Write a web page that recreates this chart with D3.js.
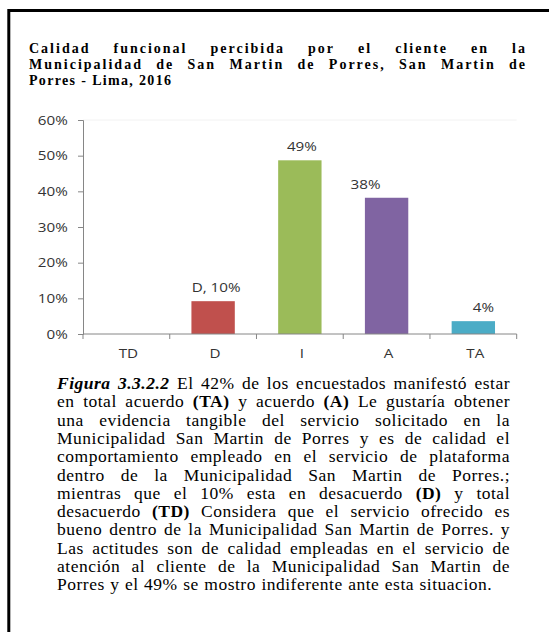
<!DOCTYPE html>
<html>
<head>
<meta charset="utf-8">
<script src="https://cdn.jsdelivr.net/npm/d3@7"></script>
<style>
  html, body { margin: 0; padding: 0; background: #fff; }
  svg { display: block; }
</style>
</head>
<body>
<svg id="chart" width="549" height="632"></svg>
<script>
// ---- data ----
const categories = ["TD", "D", "I", "A", "TA"];
const values = [0, 9.2, 48.7, 38.2, 3.6];
const valueLabels = ["", "D, 10%", "49%", "38%", "4%"];
const barColors = ["#4F81BD", "#C0504D", "#9BBB59", "#8064A2", "#4BACC6"];
const yTicks = [0, 10, 20, 30, 40, 50, 60];
const yTickLabels = ["0%", "10%", "20%", "30%", "40%", "50%", "60%"];
const titleLines = [
  "Calidad funcional percibida por el cliente en la",
  "Municipalidad de San Martin de Porres, San Martin de",
  "Porres - Lima, 2016"
];
const captionLines = [
  "[bi]Figura [bi]3.3.2.2 El 42% de los encuestados manifestó estar",
  "en total acuerdo [b](TA) y acuerdo [b](A) Le gustaría obtener",
  "una evidencia tangible del servicio solicitado en la",
  "Municipalidad San Martin de Porres y es de calidad el",
  "comportamiento empleado en el servicio de plataforma",
  "dentro de la Municipalidad San Martin de Porres.;",
  "mientras que el 10% esta en desacuerdo [b](D) y total",
  "desacuerdo [b](TD) Considera que el servicio ofrecido es",
  "bueno dentro de la Municipalidad San Martin de Porres. y",
  "Las actitudes son de calidad empleadas en el servicio de",
  "atención al cliente de la Municipalidad San Martin de",
  "Porres y el 49% se mostro indiferente ante esta situacion."
];

// ---- drawing ----
const svg = d3.select("#chart");

// frame
svg.append("path")
  .attr("d", "M8.8,640 V10.5 H560")
  .attr("fill", "none").attr("stroke", "#000").attr("stroke-width", 3);

// justified text helper
function drawJustified(lines, opts) {
  const g = svg.append("g");
  lines.forEach((line, i) => {
    const y = opts.y0 + i * opts.dy;
    const justify = opts.justify(i);
    const ls = justify ? opts.lsJust : opts.ls;
    const words = line.split(" ").map(w => {
      let style = "";
      if (w.startsWith("[bi]")) { style = "bi"; w = w.slice(4); }
      else if (w.startsWith("[b]")) { style = "b"; w = w.slice(3); }
      return { w, style };
    });
    const nodes = words.map(d => {
      const t = g.append("text")
        .attr("y", y)
        .attr("font-family", "Liberation Serif, Times New Roman, serif")
        .attr("font-size", opts.size)
        .attr("letter-spacing", ls)
        .attr("font-weight", (opts.bold || d.style) ? "bold" : "normal")
        .attr("font-style", d.style === "bi" ? "italic" : "normal")
        .attr("fill", "#000")
        .text(d.w);
      return { t, width: t.node().getComputedTextLength() };
    });
    const total = d3.sum(nodes, n => n.width);
    const gap = justify && nodes.length > 1
      ? (opts.width - total) / (nodes.length - 1)
      : opts.space;
    let x = opts.x0;
    nodes.forEach(n => { n.t.attr("x", x); x += n.width + gap; });
  });
}

drawJustified(titleLines, {
  x0: 29, y0: 53, dy: 16, size: 14, ls: 1.3, lsJust: 2.0, bold: true,
  width: 498, space: 5, justify: i => i < titleLines.length - 1
});

drawJustified(captionLines, {
  x0: 57, y0: 389, dy: 18.3, size: 17.5, ls: 0.5, lsJust: 0.5, bold: false,
  width: 453, space: 5.5, justify: i => i < captionLines.length - 1
});

// chart
const plot = { left: 83, right: 516.7, top: 120, bottom: 334 };
const x = d3.scaleBand().domain(categories)
  .range([plot.left, plot.right]).paddingInner(0.5).paddingOuter(0.25);
const y = d3.scaleLinear().domain([0, 60]).range([plot.bottom, plot.top]);

const axisColor = "#868686";
const textColor = "#333";
const sx = 1.17;
const chartFont = "Open Sans, Arial, sans-serif";

function stretchedText(g, tx, ty, str, anchor, size) {
  return g.append("text")
    .attr("transform", `translate(${tx},${ty}) scale(${sx},1)`)
    .attr("text-anchor", anchor)
    .attr("font-family", chartFont)
    .attr("font-size", size || 13)
    .attr("fill", textColor)
    .text(str);
}

const cg = svg.append("g");

// faint top border line
cg.append("line")
  .attr("x1", plot.left).attr("x2", plot.right)
  .attr("y1", y(60)).attr("y2", y(60))
  .attr("stroke", "#f2f2f2").attr("stroke-width", 1);

// bars
cg.selectAll("rect.bar").data(categories).join("rect")
  .attr("class", "bar")
  .attr("x", c => x(c))
  .attr("width", x.bandwidth())
  .attr("y", (c, i) => y(values[i]))
  .attr("height", (c, i) => y(0) - y(values[i]))
  .attr("fill", (c, i) => barColors[i]);

// y axis
const yAxis = d3.axisLeft(y).tickValues(yTicks).tickSize(5).tickFormat("");
const yg = cg.append("g").attr("transform", `translate(${plot.left},0)`).call(yAxis);
yg.select(".domain").attr("stroke", axisColor);
yg.selectAll(".tick line").attr("stroke", axisColor);
yTicks.forEach((t, i) => {
  stretchedText(cg, 67.7, y(t) + 4.6, yTickLabels[i], "end", 13);
});

// x axis line and boundary ticks
const step = x.step();
const gapHalf = (step - x.bandwidth()) / 2;
cg.append("line")
  .attr("x1", plot.left).attr("x2", plot.right)
  .attr("y1", y(0)).attr("y2", y(0))
  .attr("stroke", axisColor);
const bounds = categories.map(c => x(c) - gapHalf).concat([x(categories[categories.length - 1]) + x.bandwidth() + gapHalf]);
cg.selectAll("line.xt").data(bounds).join("line")
  .attr("class", "xt")
  .attr("x1", d => d).attr("x2", d => d)
  .attr("y1", y(0)).attr("y2", y(0) + 5)
  .attr("stroke", axisColor);
categories.forEach(c => {
  stretchedText(cg, x(c) + x.bandwidth() / 2 + 2, 357.5, c, "middle", 13);
});

// data labels
const labelShift = { TD: [0, 0], D: [3, 0], I: [2, 0], A: [-21, 0], TA: [10, 0] };
categories.forEach((c, i) => {
  if (!valueLabels[i]) return;
  const cx = x(c) + x.bandwidth() / 2 + labelShift[c][0];
  stretchedText(cg, cx, y(values[i]) - 9, valueLabels[i], "middle", 13);
});
</script>
</body>
</html>
